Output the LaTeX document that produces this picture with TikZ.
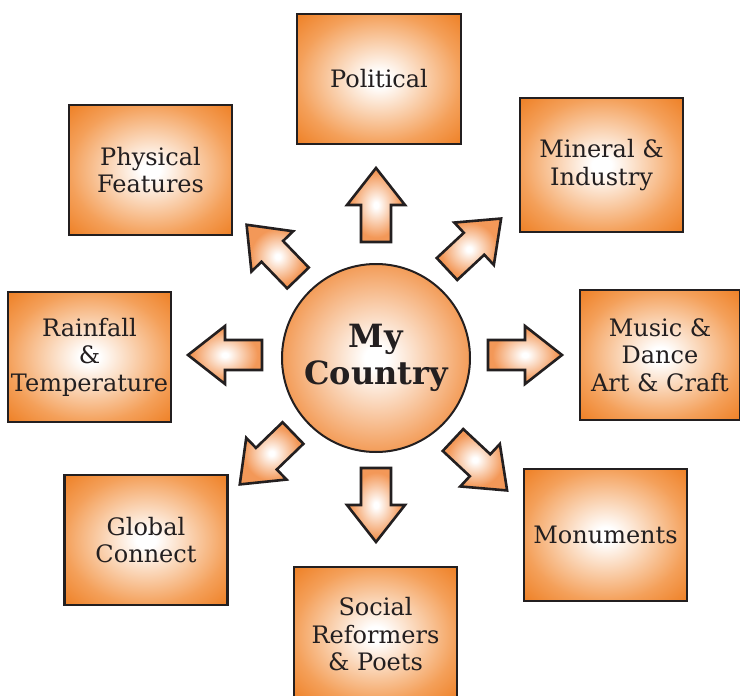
\documentclass[tikz,border=0pt]{standalone}
\usepackage{fontspec}
\setmainfont{DejaVu Serif}
\definecolor{boxO}{RGB}{238,126,34}
\definecolor{boxM}{RGB}{244,160,90}
\definecolor{cirO}{RGB}{243,156,88}
\definecolor{arrO}{RGB}{243,152,88}
\definecolor{ink}{RGB}{35,31,32}
\pgfdeclareradialshading{boxshade}{\pgfpointorigin}{color(0bp)=(white); color(3bp)=(white); color(25bp)=(boxM); color(36bp)=(boxO); color(50bp)=(boxO)}
\pgfdeclareradialshading{cirshade}{\pgfpointorigin}{color(0bp)=(white); color(3bp)=(white); color(25bp)=(cirO); color(50bp)=(cirO)}
\pgfdeclareradialshading{arrshade}{\pgfpointorigin}{color(0bp)=(white); color(2bp)=(white); color(22bp)=(arrO); color(50bp)=(arrO)}
\tikzset{
  topicbox/.style={draw=ink, line width=2.6pt, shading=boxshade, rectangle, inner sep=0pt, align=center, text=ink, minimum width=163pt, minimum height=130pt, font=\fontsize{24}{27.5}\selectfont},
  hub/.style={draw=ink, line width=2pt, circle, shading=cirshade, inner sep=0pt, minimum size=188pt, align=center, text=ink, font=\bfseries\fontsize{32}{37}\selectfont},
  blockarr/.style={draw=ink, line width=2.6pt, line join=miter, shading=arrshade},
}
\newcommand\blockarrow[2]{\draw[blockarr, shift={(#1)}, rotate=#2] (0,-15) -- (37,-15) -- (37,-29) -- (74,0) -- (37,29) -- (37,15) -- (0,15) -- cycle;}
\begin{document}
\begin{tikzpicture}[x=1pt,y=1pt]
\useasboundingbox (0,0) rectangle (740,-696);
% hub
\node[hub] (c) at (376,-358) {My\\Country};
% topic boxes
\node[topicbox, minimum width=164pt] (pol) at (379,-79) {Political};
\node[topicbox] (phy) at (150.5,-170) {Physical\\Features};
\node[topicbox, minimum height=134pt] (min) at (601.5,-165) {Mineral \&\\Industry};
\node[topicbox] (rain) at (89.5,-357) {Rainfall\\\&\\Temperature};
\node[topicbox, minimum width=160pt] (mus) at (660,-355) {Music \&\\Dance\\Art \& Craft};
\node[topicbox] (glo) at (146,-540) {Global\\Connect};
\node[topicbox, minimum height=132pt] (mon) at (605.5,-535) {Monuments};
\node[topicbox, minimum height=135pt] (soc) at (375.5,-634.5) {Social\\Reformers\\\& Poets};
% block arrows
\blockarrow{376,-242}{90}
\blockarrow{376,-468}{-90}
\blockarrow{262,-355}{180}
\blockarrow{488,-355}{0}
\blockarrow{447,-269}{43}
\blockarrow{298,-278}{134}
\blockarrow{293,-433}{-136}
\blockarrow{453,-440}{-43}
\end{tikzpicture}
\end{document}
